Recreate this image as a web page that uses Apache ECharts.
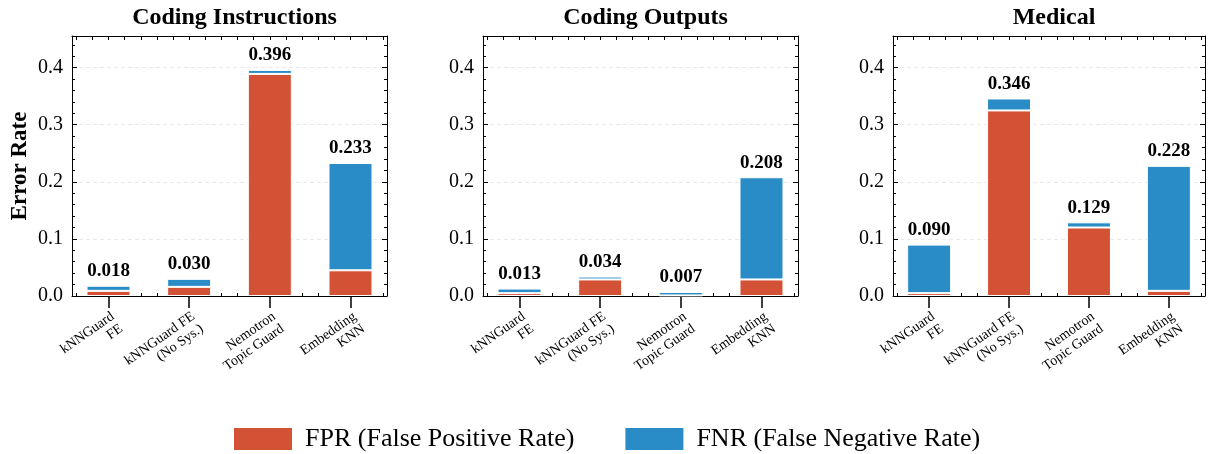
<!DOCTYPE html>
<html>
<head>
<meta charset="utf-8">
<script src="https://cdn.jsdelivr.net/npm/echarts@6/dist/echarts.min.js"></script>
<style>
  html, body { margin: 0; padding: 0; background: #fff; }
</style>
</head>
<body>
<div id="container" style="width: 1210px; height: 454px"></div>
<script>
// data
var panelTitles = ['Coding Instructions', 'Coding Outputs', 'Medical']
var methods = ['kNNGuard\nFE', 'kNNGuard FE\n(No Sys.)', 'Nemotron\nTopic Guard', 'Embedding\nKNN']
var seriesNames = ['FPR (False Positive Rate)', 'FNR (False Negative Rate)']

var fprInstructions = [0.009, 0.016, 0.389, 0.045]
var fnrInstructions = [0.009, 0.014, 0.007, 0.188]
var totalInstructions = [0.018, 0.030, 0.396, 0.233]

var fprOutputs = [0.005, 0.029, 0.001, 0.029]
var fnrOutputs = [0.008, 0.005, 0.006, 0.179]
var totalOutputs = [0.013, 0.034, 0.007, 0.208]

var fprMedical = [0.005, 0.325, 0.120, 0.009]
var fnrMedical = [0.085, 0.021, 0.009, 0.219]
var totalMedical = [0.090, 0.346, 0.129, 0.228]

var yTicks = [0, 0.1, 0.2, 0.3, 0.4]

var fprList = [fprInstructions, fprOutputs, fprMedical]
var fnrList = [fnrInstructions, fnrOutputs, fnrMedical]
var totalList = [totalInstructions, totalOutputs, totalMedical]

var RED = '#d35236'
var BLUE = '#2a8cc6'
var FONT = '"Liberation Serif", "DejaVu Serif", serif'

// axis ranges like matplotlib (bar width 0.55, 5% margins, ylim = max * 1.15)
var xMin = -0.4525, xMax = 3.4525
var yMax = 0.396 * 1.15

// minor tick positions for the box frame
var xMinor = []
for (var k = -2; k <= 17; k++) {
  var v = Math.round(k * 0.2 * 10) / 10
  if (v > xMin && v < xMax) xMinor.push(v)
}
var yMinor = []
for (var k = 1; k <= 22; k++) {
  if (k % 5 !== 0) yMinor.push(Math.round(k * 0.02 * 100) / 100)
}

var gridLefts = [72, 483, 893]
var gridWidths = [315, 315, 312]
var TOP = 36, HEIGHT = 260

var grids = [], xAxes = [], yAxes = [], series = [], titles = []

// frame grids (0..2): box, ticks, y labels, gridlines
for (var p = 0; p < 3; p++) {
  grids.push({ left: gridLefts[p], top: TOP, width: gridWidths[p], height: HEIGHT })

  titles.push({
    text: panelTitles[p],
    left: gridLefts[p] + gridWidths[p] / 2,
    top: 1,
    textAlign: 'center',
    textStyle: { fontFamily: FONT, fontWeight: 'bold', fontSize: 24, color: '#000' }
  })

  xAxes.push({
    type: 'value', gridIndex: p, position: 'bottom', min: xMin, max: xMax,
    axisLine: { show: true, onZero: false, lineStyle: { color: '#000', width: 1 } },
    axisTick: { show: true, inside: true, length: 3, customValues: xMinor, lineStyle: { color: '#000', width: 1 } },
    axisLabel: { show: false },
    splitLine: { show: false }
  })
  xAxes.push({
    type: 'value', gridIndex: p, position: 'top', min: xMin, max: xMax,
    axisLine: { show: true, onZero: false, lineStyle: { color: '#000', width: 1 } },
    axisTick: { show: true, inside: true, length: 4, customValues: xMinor.concat([0, 1, 2, 3]), lineStyle: { color: '#000', width: 1 } },
    axisLabel: { show: false },
    splitLine: { show: false }
  })

  yAxes.push({
    type: 'value', gridIndex: p, position: 'left', min: 0, max: yMax,
    name: p === 0 ? 'Error Rate' : '',
    nameLocation: 'middle', nameGap: 40,
    nameTextStyle: { fontFamily: FONT, fontWeight: 'bold', fontSize: 23, color: '#000' },
    axisLine: { show: true, onZero: false, lineStyle: { color: '#000', width: 1 } },
    axisTick: { show: true, inside: true, length: 5, customValues: yTicks, lineStyle: { color: '#000', width: 1 } },
    axisLabel: {
      show: true, customValues: yTicks, margin: 9,
      fontFamily: FONT, fontSize: 20, color: '#000',
      formatter: function (val) { return val.toFixed(1) }
    },
    splitLine: { show: true, lineStyle: { color: '#e4e4e4', type: [4, 3], width: 0.8 } }
  })
  yAxes.push({
    type: 'value', gridIndex: p, position: 'left', min: 0, max: yMax,
    axisLine: { show: false, onZero: false },
    axisTick: { show: true, inside: true, length: 3, customValues: yMinor, lineStyle: { color: '#000', width: 1 } },
    axisLabel: { show: false },
    splitLine: { show: false }
  })
  yAxes.push({
    type: 'value', gridIndex: p, position: 'right', min: 0, max: yMax,
    axisLine: { show: true, onZero: false, lineStyle: { color: '#000', width: 1 } },
    axisTick: { show: true, inside: true, length: 5, customValues: yTicks, lineStyle: { color: '#000', width: 1 } },
    axisLabel: { show: false },
    splitLine: { show: false }
  })
  yAxes.push({
    type: 'value', gridIndex: p, position: 'right', min: 0, max: yMax,
    axisLine: { show: false, onZero: false },
    axisTick: { show: true, inside: true, length: 3, customValues: yMinor, lineStyle: { color: '#000', width: 1 } },
    axisLabel: { show: false },
    splitLine: { show: false }
  })
}

// bar grids (3..5): category axis stretched so the bands match the frame's x range
for (var p = 0; p < 3; p++) {
  var unit = gridWidths[p] / (xMax - xMin)
  grids.push({ left: gridLefts[p] + (-0.5 - xMin) * unit, top: TOP, width: 4 * unit, height: HEIGHT })

  xAxes.push({
    type: 'category', gridIndex: 3 + p, data: methods, boundaryGap: true,
    axisLine: { show: false },
    axisTick: { show: true, inside: false, length: 12, alignWithLabel: true, lineStyle: { color: '#000', width: 1.5 } },
    axisLabel: {
      show: true, interval: 0, rotate: 35, margin: 13,
      align: 'right', verticalAlign: 'top',
      fontFamily: FONT, fontSize: 14, lineHeight: 15, color: '#000'
    }
  })
  yAxes.push({
    type: 'value', gridIndex: 3 + p, min: 0, max: yMax, show: false
  })

  var totals = totalList[p]
  series.push({
    name: seriesNames[0], type: 'bar', stack: 'panel' + p,
    xAxisIndex: 6 + p, yAxisIndex: 12 + p, barWidth: 44,
    itemStyle: { color: RED, borderColor: '#fff', borderWidth: 1 },
    data: fprList[p]
  })
  series.push({
    name: seriesNames[1], type: 'bar', stack: 'panel' + p,
    xAxisIndex: 6 + p, yAxisIndex: 12 + p, barWidth: 44,
    itemStyle: { color: BLUE, borderColor: '#fff', borderWidth: 1 },
    label: {
      show: true, position: 'top', distance: 5,
      fontFamily: FONT, fontWeight: 'bold', fontSize: 19, color: '#000',
      formatter: (function (t) {
        return function (params) { return t[params.dataIndex].toFixed(3) }
      })(totals)
    },
    data: fnrList[p]
  })
}

var dom = document.getElementById('container')
var myChart = echarts.init(dom, null, { renderer: 'canvas' })
var option = {
  animation: false,
  backgroundColor: '#fff',
  title: titles,
  legend: {
    data: seriesNames,
    left: 229, top: 421,
    itemWidth: 58, itemHeight: 22, itemGap: 51,
    icon: 'rect',
    itemStyle: { borderWidth: 0 },
    textStyle: { fontFamily: FONT, fontSize: 26, color: '#000', padding: [0, 0, 0, 8] }
  },
  grid: grids,
  xAxis: xAxes,
  yAxis: yAxes,
  series: series
}
myChart.setOption(option)
</script>
</body>
</html>
